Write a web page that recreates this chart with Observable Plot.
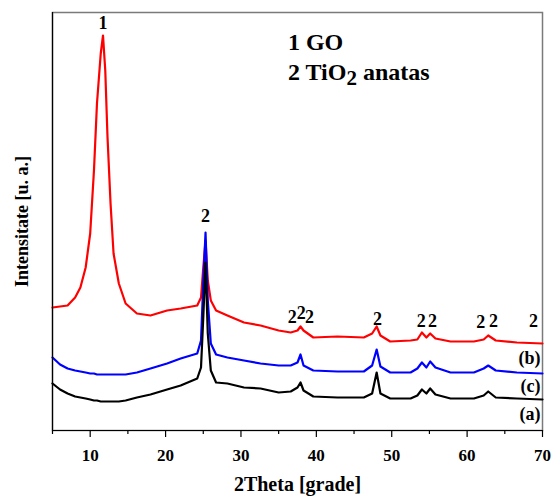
<!DOCTYPE html>
<html><head><meta charset="utf-8">
<script src="https://cdn.jsdelivr.net/npm/d3@7"></script>
<script src="https://cdn.jsdelivr.net/npm/@observablehq/plot@0.6"></script>
<style>body{margin:0;background:#fff}</style>
</head><body><div id="chart"></div>
<script>
const twoTheta = [5,6,7,8,8.7,9.4,10.0,10.5,10.9,11.4,11.7,12.0,12.3,12.7,13.1,13.8,14.7,16.2,18.0,20.2,22.0,24.2,24.7,25.0,25.3,25.6,26.0,26.7,28.2,30.4,32.6,35.0,36.6,37.5,37.9,38.3,39.6,42.8,46.3,47.4,48.0,48.5,49.8,52.5,53.4,54.0,54.6,55.1,55.8,57.8,60.9,62.2,62.8,63.8,66.6,70];
// red curve, label (b)
const seriesB = [123,124,125,133,143,163,197,260,327,377,395,360,293,227,177,147,127,117,115,120,122,125,133,163,190,150,130,120,115,108,105,100,98,100,104,100,93,94,93,97,104,95,89,90,91,98,93,97,92,89,89,91,95,90,88,87];
// blue curve, label (c)
const seriesC = [73,66,62,60,59,58,57,57,56,56,56,56,56,56,56,56,56,58,62,67,72,77,90,147,198,130,87,76,73,70,67,65,65,68,76,65,60,59,59,65,81,64,58,58,62,68,63,69,63,58,58,62,65,60,58,57];
// black curve, label (a)
const seriesA = [47,41,37,34,33,32,31,30,30,29,29,29,29,29,29,29,30,33,36,41,45,52,63,113,168,97,60,48,47,43,42,38,39,43,48,40,34,33,33,37,58,37,32,32,35,41,37,42,36,32,32,35,39,33,32,31];

const seriesNames = ["(b)", "(c)", "(a)"];
const seriesColors = ["#ff0000", "#0000ff", "#000000"];
const seriesValues = [seriesB, seriesC, seriesA];
const seriesLabelY = [72, 44, 16];

const peakText = ["1","2","2","2","2","2","2","2","2","2","2"];
const peakX = [11.7,25.3,36.8,38.0,39.1,48.1,53.9,55.4,61.8,63.5,68.8];
const peakY = [407,214,113,117,113,111,109,109,108,109,109];

const majorTicks = [10,20,30,40,50,60,70];
const minorTicks = [5,15,25,35,45,55,65];
const xTitle = ["2Theta [grade]"];
const yTitle = ["Intensitate [u. a.]"];

const rows = seriesValues.flatMap((vals, i) => vals.map((v, j) => ({x: twoTheta[j], y: v, s: seriesNames[i]})));
const labels = seriesNames.map((n, i) => ({x: 70, y: seriesLabelY[i], t: n}));
const peaks = peakText.map((t, i) => ({x: peakX[i], y: peakY[i], t}));

const font = "'Liberation Serif', 'Times New Roman', serif";
const chart = Plot.plot({
  width: 551, height: 497,
  marginLeft: 52, marginRight: 9, marginTop: 12, marginBottom: 67,
  style: {fontFamily: font, fontWeight: "bold", background: "#fff", color: "#000"},
  x: {domain: [5, 70]},
  y: {domain: [0, 418], axis: null},
  marks: [
    Plot.frame({stroke: "#7a7a7a", strokeWidth: 1.5}),
    ...seriesNames.map((n, i) => Plot.line(rows.filter(d => d.s === n), {x: "x", y: "y", stroke: seriesColors[i], strokeWidth: 2.2})),
    Plot.ruleX([5], {stroke: "#000", strokeWidth: 1.2}),
    Plot.ruleY([0], {stroke: "#000", strokeWidth: 1.2}),
    Plot.axisX(majorTicks, {tickSize: 7, tickPadding: 11, fontSize: 17, fontWeight: "bold", label: null, stroke: "#000", strokeWidth: 1.2}),
    Plot.axisX(minorTicks, {tickSize: 4, tickFormat: () => "", label: null, stroke: "#000", strokeWidth: 1.2}),
    Plot.text(peaks, {x: "x", y: "y", text: "t", fontSize: 18, fontWeight: "bold", lineAnchor: "middle", fill: "#000"}),
    Plot.text(labels, {x: "x", y: "y", text: "t", fontSize: 18, fontWeight: "bold", textAnchor: "end", dx: -2, lineAnchor: "middle", fill: "#000"}),
    Plot.text(xTitle, {frameAnchor: "bottom", dy: 54, fontSize: 20, fontWeight: "bold", textAnchor: "middle", lineAnchor: "middle", fill: "#000"}),
    Plot.text(yTitle, {frameAnchor: "left", dx: -30, rotate: -90, fontSize: 18, fontWeight: "bold", textAnchor: "middle", lineAnchor: "middle", fill: "#000"})
  ]
});
document.getElementById("chart").appendChild(chart);

// legend block (with subscript) positioned through the plot's scales
const xs = chart.scale("x"), ys = chart.scale("y");
const lx = xs.apply(36.3);
const g = d3.select(chart).append("g")
  .attr("font-family", font).attr("font-weight", "bold").attr("font-size", 24)
  .attr("fill", "#000").attr("text-anchor", "start");
g.append("text").attr("x", lx).attr("y", ys.apply(388)).attr("dy", "0.35em").text("1 GO");
const t2 = g.append("text").attr("x", lx).attr("y", ys.apply(358)).attr("dy", "0.35em");
t2.append("tspan").text("2 TiO");
t2.append("tspan").attr("font-size", 21).attr("dy", 5).text("2");
t2.append("tspan").attr("dy", -5).text(" anatas");
</script>
</body></html>
